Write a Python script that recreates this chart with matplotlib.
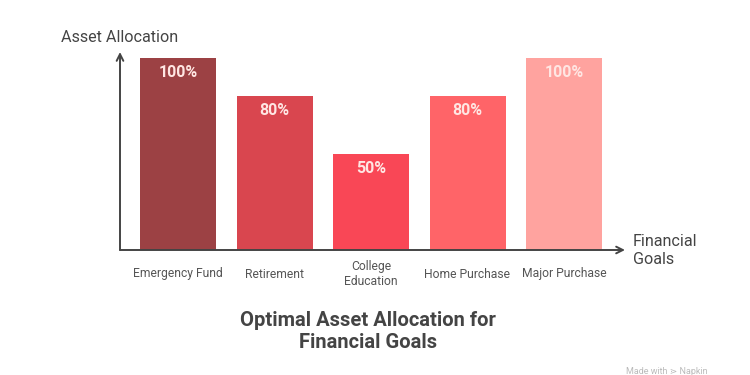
import matplotlib
matplotlib.use("Agg")
import matplotlib.pyplot as plt

plt.rcParams['font.family'] = ['Roboto', 'DejaVu Sans']

# data
goals = ["Emergency Fund", "Retirement", "College\nEducation", "Home Purchase", "Major Purchase"]
allocation = [100, 80, 50, 80, 100]
bar_colors = ["#9C4144", "#D9464F", "#F94756", "#FF6468", "#FFA39F"]

W, H = 750, 375
fig = plt.figure(figsize=(W / 100, H / 100), dpi=100)

# axes box in pixels: x 120..625, y 52..250 (top..bottom)
ax = fig.add_axes([120 / W, (H - 250) / H, (625 - 120) / W, (250 - 52) / H])
step = 96.5
xmin = -(178 - 120) / step
xmax = xmin + (625 - 120) / step
ax.set_xlim(xmin, xmax)
ax.set_ylim(0, 198 / 1.92)

x = range(len(goals))
ax.bar(x, allocation, width=76 / step, color=bar_colors, zorder=2)

for i, v in enumerate(allocation):
    ax.text(i, v - 7.3, f"{v}%", ha="center", va="center", fontsize=11.5,
            fontweight="bold", color="#FFE6E3", zorder=3)

for s in ax.spines.values():
    s.set_visible(False)
ax.set_xticks([])
ax.set_yticks([])

# axis arrows
axis_col = "#444444"
ax.annotate("", xy=(0, 1), xytext=(0, 0), xycoords="axes fraction",
            arrowprops=dict(arrowstyle="->", color=axis_col, lw=1.4,
                            shrinkA=0, shrinkB=0, mutation_scale=12))
ax.annotate("", xy=(1, 0), xytext=(0, 0), xycoords="axes fraction",
            arrowprops=dict(arrowstyle="->", color=axis_col, lw=1.4,
                            shrinkA=0, shrinkB=0, mutation_scale=12))

# category labels
for i, g in enumerate(goals):
    ax.text(i, -24 / 1.92, g, ha="center", va="center", fontsize=8.7,
            color="#555555", linespacing=1.15, clip_on=False)

fig.text(120 / W, 1 - 37 / H, "Asset Allocation", ha="center", va="center",
         fontsize=11.6, color="#444444")
fig.text(633 / W, 1 - 250 / H, "Financial\nGoals", ha="left", va="center",
         fontsize=11.6, color="#444444", linespacing=1.25)

fig.text(368 / W, 1 - 332 / H, "Optimal Asset Allocation for\nFinancial Goals",
         ha="center", va="center", fontsize=14.5, fontweight="bold",
         color="#444444", linespacing=1.2)

fig.text(708 / W, 1 - 371 / H, "Made with \u22d7 Napkin", ha="right", va="center",
         fontsize=6.5, color="#BBBBBB")

fig.savefig("out.png", dpi=100, facecolor="white")
